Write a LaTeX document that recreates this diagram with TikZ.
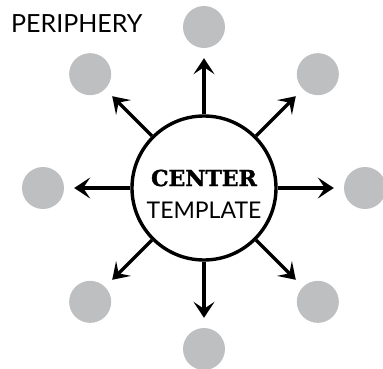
\documentclass[tikz,border=0pt]{standalone}
\usepackage{fontspec}
\usepackage{tikz}
\usetikzlibrary{arrows.meta,positioning,calc}
\newfontfamily\lightfont{Lato}
\newfontfamily\slabfont[FakeBold=1.5]{DejaVu Serif Bold}
\definecolor{hubgray}{HTML}{BEBFC1}
\tikzset{
  hub/.style={circle, draw=black, line width=3.4pt, fill=white, minimum size=144pt, inner sep=0pt},
  spoke/.style={circle, fill=hubgray, minimum size=42pt, inner sep=0pt},
  arr/.style={-{Stealth[length=16pt, width=21pt, inset=7pt]}, line width=3.4pt, shorten >=10pt},
}

\begin{document}
\begin{tikzpicture}[x=1pt, y=1pt]
        \useasboundingbox (-204,-180) rectangle (179,188);
        \node[hub] (c) at (0,0) {};
        \foreach \k in {0,...,7} {
          \node[spoke] (p\k) at ({45*\k}:161) {};
          \draw[arr] (c) -- (p\k);
        }
        \node[font={\slabfont\fontsize{22}{25}\selectfont}, inner sep=0pt] (ctitle) at (0,10) {CENTER};
        \node[font={\lightfont\fontsize{23}{26}\selectfont}, inner sep=0pt] (csub) at (0,-22) {TEMPLATE};
        \node[font={\lightfont\fontsize{25}{28}\selectfont}, inner sep=0pt, anchor=west] (ptitle) at (-193,164) {PERIPHERY};
      \end{tikzpicture}
\end{document}
